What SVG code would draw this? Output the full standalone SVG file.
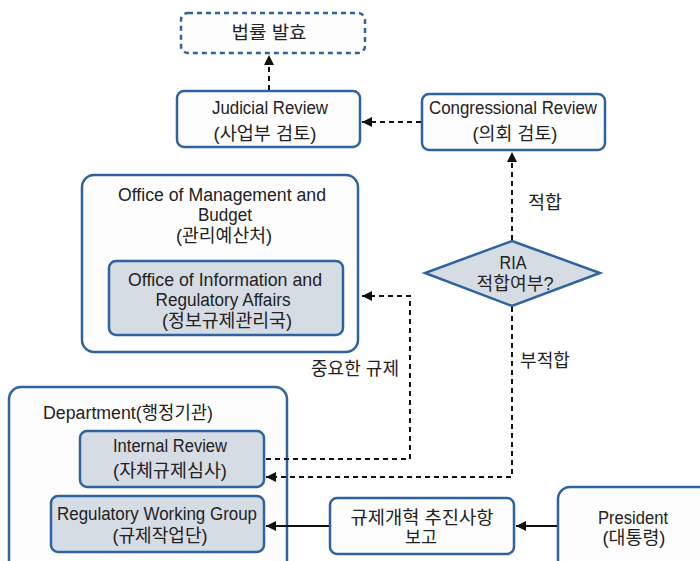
<svg xmlns="http://www.w3.org/2000/svg" width="700" height="561" viewBox="0 0 700 561">
  <defs>
    <marker id="arrow" viewBox="0 0 10 10" refX="10" refY="5" markerWidth="11" markerHeight="10" markerUnits="userSpaceOnUse" orient="auto">
      <path d="M0,0 L10,5 L0,10 z" fill="#111"/>
    </marker>
  </defs>
  <style>
    .box { fill: #fdfdfd; stroke: #2e63a0; stroke-width: 2.5; }
    .inner { fill: #d6dce4; stroke: #2e63a0; stroke-width: 2.5; }
    .dashbox { fill: #fdfdfd; stroke: #2e63a0; stroke-width: 2.5; stroke-dasharray: 5 4; }
    .t { font-family: "Liberation Sans", "Noto Sans CJK KR", sans-serif; font-size: 18px; fill: #222; text-anchor: middle; }
    .ts { text-anchor: start; }
    .dash { fill: none; stroke: #111; stroke-width: 2; stroke-dasharray: 5 4; marker-end: url(#arrow); }
    .solid { fill: none; stroke: #111; stroke-width: 2; marker-end: url(#arrow); }
  </style>
  <rect width="700" height="561" fill="#ffffff"/>

  <g id="enactment">
    <rect class="dashbox" x="181" y="13" width="184" height="40" rx="7"/>
    <text class="t" x="269" y="39" textLength="75" lengthAdjust="spacingAndGlyphs">법률 발효</text>
  </g>

  <g id="judicial-review">
    <rect class="box" x="177" y="91" width="183" height="56" rx="7"/>
    <text class="t" x="270" y="114" textLength="116" lengthAdjust="spacingAndGlyphs">Judicial Review</text>
    <text class="t" x="265" y="140" textLength="103" lengthAdjust="spacingAndGlyphs">(사업부 검토)</text>
  </g>

  <g id="congressional-review">
    <rect class="box" x="422" y="94" width="183" height="56" rx="7"/>
    <text class="t" x="513" y="114" textLength="168" lengthAdjust="spacingAndGlyphs">Congressional Review</text>
    <text class="t" x="515" y="140" textLength="85" lengthAdjust="spacingAndGlyphs">(의회 검토)</text>
  </g>

  <g id="omb">
    <rect class="box" x="82" y="175" width="276" height="177" rx="12"/>
    <text class="t" x="222" y="201" textLength="208" lengthAdjust="spacingAndGlyphs">Office of Management and</text>
    <text class="t" x="225" y="221" textLength="54" lengthAdjust="spacingAndGlyphs">Budget</text>
    <text class="t" x="224" y="242" textLength="96" lengthAdjust="spacingAndGlyphs">(관리예산처)</text>
  </g>

  <g id="oira">
    <rect class="inner" x="109" y="261" width="234" height="74" rx="7"/>
    <text class="t" x="225" y="286" textLength="194" lengthAdjust="spacingAndGlyphs">Office of Information and</text>
    <text class="t" x="223" y="306" textLength="135" lengthAdjust="spacingAndGlyphs">Regulatory Affairs</text>
    <text class="t" x="227" y="327" textLength="130" lengthAdjust="spacingAndGlyphs">(정보규제관리국)</text>
  </g>

  <g id="ria-check">
    <polygon class="inner" points="512,241 600,273 512,306 425,273"/>
    <text class="t" x="513" y="269" textLength="27" lengthAdjust="spacingAndGlyphs">RIA</text>
    <text class="t" x="515" y="290" textLength="77" lengthAdjust="spacingAndGlyphs">적합여부?</text>
  </g>

  <g id="department">
    <rect class="box" x="9" y="387" width="278" height="200" rx="12"/>
    <text class="t ts" x="43" y="419" textLength="170" lengthAdjust="spacingAndGlyphs">Department(행정기관)</text>
  </g>

  <g id="internal-review">
    <rect class="inner" x="80" y="431" width="184" height="56" rx="7"/>
    <text class="t" x="170" y="452" textLength="114" lengthAdjust="spacingAndGlyphs">Internal Review</text>
    <text class="t" x="170" y="477" textLength="114" lengthAdjust="spacingAndGlyphs">(자체규제심사)</text>
  </g>

  <g id="working-group">
    <rect class="inner" x="51" y="496" width="213" height="56" rx="7"/>
    <text class="t" x="157" y="520" textLength="200" lengthAdjust="spacingAndGlyphs">Regulatory Working Group</text>
    <text class="t" x="160" y="542" textLength="95" lengthAdjust="spacingAndGlyphs">(규제작업단)</text>
  </g>

  <g id="reform-report">
    <rect class="box" x="330" y="498" width="184" height="56" rx="7"/>
    <text class="t" x="422" y="524" textLength="143" lengthAdjust="spacingAndGlyphs">규제개혁 추진사항</text>
    <text class="t" x="421" y="544" textLength="32" lengthAdjust="spacingAndGlyphs">보고</text>
  </g>

  <g id="president">
    <rect class="box" x="558" y="487" width="160" height="100" rx="12"/>
    <text class="t" x="633" y="524" textLength="70" lengthAdjust="spacingAndGlyphs">President</text>
    <text class="t" x="634" y="544" textLength="63" lengthAdjust="spacingAndGlyphs">(대통령)</text>
  </g>

  <g id="connectors">
    <path class="dash" d="M269,90 V55"/>
    <path class="dash" d="M421,122 H362"/>
    <path class="dash" d="M512,240 V152"/>
    <path class="dash" d="M266,459 H410 V296 H362"/>
    <path class="dash" d="M512,307 V477 H266"/>
    <path class="solid" d="M557,526 H516"/>
    <path class="solid" d="M329,526 H266"/>
    <text class="t" x="545" y="209" textLength="34" lengthAdjust="spacingAndGlyphs">적합</text>
    <text class="t" x="545" y="367" textLength="50" lengthAdjust="spacingAndGlyphs">부적합</text>
    <text class="t" x="355" y="375" textLength="88" lengthAdjust="spacingAndGlyphs">중요한 규제</text>
  </g>
</svg>
